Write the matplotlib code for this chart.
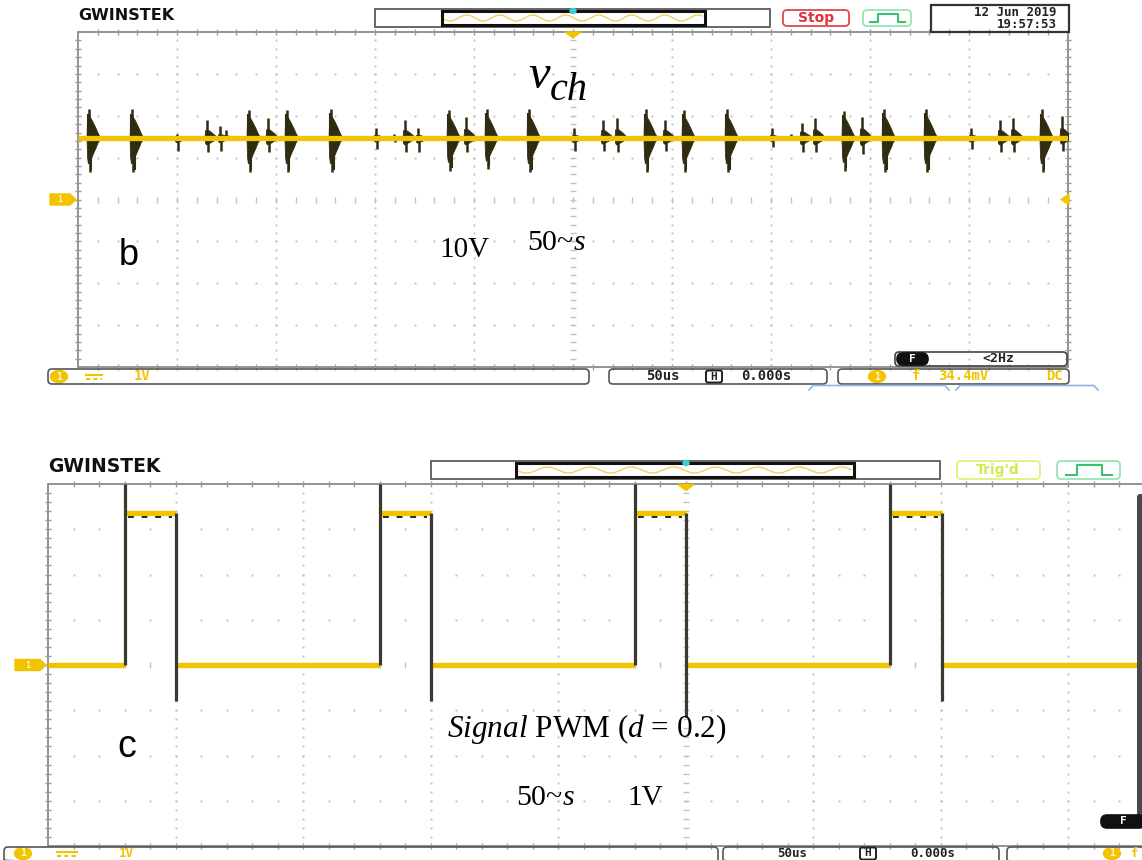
import numpy as np
import matplotlib
matplotlib.use("Agg")
import matplotlib.pyplot as plt
from matplotlib.patches import FancyBboxPatch, Rectangle, Polygon, Ellipse

W, H = 1142, 860

# ---------------- panel (b): channel voltage, screen divisions ----------------
VCH_LEVEL = 1.47          # trace level (div above channel marker)
BURST_T = [0.121, 0.556, 1.010, 1.313, 1.444, 1.505, 1.737, 1.929, 2.121, 2.566, 3.020, 3.202,
           3.313, 3.444, 3.758, 3.929, 4.141, 4.566, 5.020, 5.313, 5.455, 5.747, 5.939, 6.131,
           6.566, 7.020, 7.212, 7.323, 7.455, 7.747, 7.929, 8.152, 8.576, 9.030, 9.323, 9.455,
           9.747, 9.949]
BURST_UP = [0.68, 0.68, 0.10, 0.43, 0.28, 0.19, 0.66, 0.47, 0.66, 0.69, 0.23, 0.10,
            0.43, 0.23, 0.66, 0.49, 0.69, 0.69, 0.23, 0.43, 0.47, 0.68, 0.43, 0.66,
            0.68, 0.23, 0.10, 0.35, 0.47, 0.65, 0.51, 0.69, 0.69, 0.24, 0.43, 0.47,
            0.68, 0.52]
BURST_DN = [0.82, 0.82, 0.30, 0.34, 0.30, 0.05, 0.82, 0.34, 0.82, 0.82, 0.26, 0.10,
            0.34, 0.34, 0.78, 0.34, 0.74, 0.82, 0.30, 0.30, 0.34, 0.82, 0.30, 0.82,
            0.82, 0.22, 0.05, 0.34, 0.34, 0.78, 0.38, 0.82, 0.82, 0.26, 0.34, 0.34,
            0.82, 0.30]
# envelope of a single ringing burst (relative time in div, relative height)
SHAPE_X = [0.000, 0.006, 0.014, 0.024, 0.036, 0.052, 0.070, 0.090, 0.112, 0.140]
SHAPE_UP = [0.00, 0.80, 0.76, 0.88, 0.80, 0.70, 0.56, 0.40, 0.20, 0.00]
SHAPE_DN = [0.00, 0.62, 0.82, 0.78, 0.72, 0.60, 0.46, 0.32, 0.14, 0.00]

# ---------------- panel (c): PWM gate signal, screen divisions ----------------
PWM_RISE = [0.60, 2.60, 4.60, 6.60]
PWM_FALL = [1.00, 3.00, 5.00, 7.01]
PWM_HIGH = 3.36
PWM_LOW = 0.0
PWM_UNDERSHOOT = [-0.80, -0.80, -1.15, -0.80]

YELLOW = "#f2c400"
DARK = "#2f2c12"
GRID = "#c2c2c2"
MONO = "DejaVu Sans Mono"
SERIF = "Liberation Serif"

plt.rcParams["mathtext.fontset"] = "custom"
plt.rcParams["mathtext.rm"] = SERIF
plt.rcParams["mathtext.it"] = SERIF + ":italic"

fig = plt.figure(figsize=(W / 100, H / 100), dpi=100)
fig.patch.set_facecolor("white")


def screen_axes(x0, y0, x1, y1):
    ax = fig.add_axes([x0 / W, 1 - y1 / H, (x1 - x0) / W, (y1 - y0) / H])
    ax.set_xlim(0, 10)
    ax.set_ylim(-4, 4)
    ax.axis("off")
    return ax


def graticule(ax):
    mx = np.linspace(0.2, 9.8, 49)
    my = np.linspace(-3.8, 3.8, 39)
    for i in range(1, 10):
        if i != 5:
            ax.plot(np.full(my.size, i), my, ls="none", marker="s", ms=1.4, mew=0, color=GRID)
    for j in (-3, -2, -1, 1, 2, 3):
        ax.plot(mx, np.full(mx.size, j), ls="none", marker="s", ms=1.4, mew=0, color=GRID)
    ax.plot(np.full(my.size, 5), my, ls="none", marker="_", ms=5, mew=1, color=GRID)
    ax.plot(mx, np.zeros(mx.size), ls="none", marker="|", ms=5, mew=1, color=GRID)
    for yy in (-4, 4):
        ax.plot(mx, np.full(mx.size, yy), ls="none", marker="|", ms=5, mew=1,
                color="#9a9a9a", clip_on=False)
    for xx in (0, 10):
        ax.plot(np.full(my.size, xx), my, ls="none", marker="_", ms=5, mew=1,
                color="#9a9a9a", clip_on=False)
    ax.add_patch(Rectangle((0, -4), 10, 8, fill=False, ec="#8a8a8a", lw=1.3, clip_on=False))


# ---------------- panel (b) screen ----------------
axb = screen_axes(78, 32, 1068, 367)
graticule(axb)
sx = np.array(SHAPE_X)
for t, up, dn in zip(BURST_T, BURST_UP, BURST_DN):
    x0 = t - 0.035
    scale = 0.9 if up > 0.6 else (0.55 if up > 0.33 else 0.4)
    axb.fill_between(x0 + sx, VCH_LEVEL - dn * scale * np.array(SHAPE_DN),
                     VCH_LEVEL + up * scale * np.array(SHAPE_UP), color=DARK, lw=0.6,
                     ec=DARK, zorder=3)
    axb.vlines(x0 + 0.026, VCH_LEVEL, VCH_LEVEL + up, color=DARK, lw=1.8, zorder=3)
    axb.vlines(x0 + 0.034, VCH_LEVEL - dn, VCH_LEVEL, color=DARK, lw=1.8, zorder=3)
    if up > 0.6:
        axb.vlines(x0 + 0.012, VCH_LEVEL, VCH_LEVEL + 0.85 * up, color=DARK, lw=1.5, zorder=3)
        axb.vlines(x0 + 0.050, VCH_LEVEL - 0.92 * dn, VCH_LEVEL, color=DARK, lw=1.5, zorder=3)
axb.hlines(VCH_LEVEL, 0, 10, color=YELLOW, lw=3.8, zorder=4)

# ---------------- panel (c) screen ----------------
axc = screen_axes(48, 484, 1323, 846)
graticule(axc)
lows = [0] + PWM_FALL
lows_end = PWM_RISE + [10]
axc.hlines([PWM_LOW] * len(lows), lows, lows_end, color=YELLOW, lw=3.8, zorder=4)
axc.hlines([PWM_HIGH] * len(PWM_RISE), PWM_RISE, PWM_FALL, color=YELLOW, lw=3.8, zorder=4)
for r, f in zip(PWM_RISE, PWM_FALL):
    axc.plot([r + 0.03, f - 0.03], [PWM_HIGH - 0.09] * 2, color=DARK, lw=1.4,
             dashes=(3, 4), zorder=5)
axc.vlines(PWM_RISE, PWM_LOW, 4.0, color="#3a3a30", lw=2.3, zorder=5)
axc.vlines(PWM_FALL, PWM_UNDERSHOOT, PWM_HIGH, color="#3a3a30", lw=2.3, zorder=5)

# ---------------- instrument frame ----------------
ov = fig.add_axes([0, 0, 1, 1])
ov.set_xlim(0, W)
ov.set_ylim(H, 0)
ov.axis("off")
ov.patch.set_alpha(0)


def rbox(x0, y0, x1, y1, ec="#555555", fc="none", lw=1.2, r=4, z=2):
    ov.add_patch(FancyBboxPatch((x0, y0), x1 - x0, y1 - y0,
                                boxstyle=f"round,pad=0,rounding_size={r}",
                                ec=ec, fc=fc, lw=lw, zorder=z))


def mono(x, y, s, color="#222222", size=10, ha="left"):
    ov.text(x, y, s, color=color, fontsize=size, family=MONO, weight="bold",
            ha=ha, va="center")


def pulse_icon(x0, y0, x1, y1):
    rbox(x0, y0, x1, y1, ec="#8fe3b0", lw=1.2)
    w = x1 - x0
    ov.plot([x0 + 0.15 * w, x0 + 0.32 * w, x0 + 0.32 * w, x0 + 0.72 * w, x0 + 0.72 * w, x0 + 0.87 * w],
            [y1 - 4, y1 - 4, y0 + 4, y0 + 4, y1 - 4, y1 - 4], color="#3cc070", lw=1.5)


def memory_bar(x0, x1, ix0, ix1, y0, y1, period, cx):
    ov.add_patch(Rectangle((x0, y0), x1 - x0, y1 - y0, fill=False, ec="#666666", lw=1.4))
    ov.add_patch(Rectangle((ix0, y0 + 2), ix1 - ix0, y1 - y0 - 4, fill=False, ec="#111111", lw=2.2))
    xs = np.linspace(ix0 + 3, ix1 - 3, 400)
    ov.plot(xs, (y0 + y1) / 2 + 3 * np.sin(2 * np.pi * (xs - ix0) / period), color="#f0d060", lw=1)
    ov.add_patch(Ellipse((cx, y0 + 2), 6, 5, color="#3ad0d8", zorder=3))


def trig_arrow(x, y):
    ov.add_patch(Polygon([(x - 8, y), (x + 8, y), (x, y + 6)], closed=True, color=YELLOW))


def ch_marker(x0, x1, yc):
    ov.add_patch(Polygon([(x0, yc - 5.5), (x1 - 6, yc - 5.5), (x1, yc), (x1 - 6, yc + 5.5),
                          (x0, yc + 5.5)], closed=True, color=YELLOW))
    ov.text((x0 + x1) / 2 - 3, yc, "1", fontsize=6, color="#fff4c0", ha="center", va="center",
            family=MONO, weight="bold")


def ch_badge(x, y):
    ov.add_patch(Ellipse((x, y), 17, 12, color=YELLOW))
    ov.text(x, y, "1", fontsize=7, color="#fff6c8", ha="center", va="center", family=MONO,
            weight="bold")


def dc_symbol(x0, x1, y):
    ov.plot([x0, x1], [y - 2, y - 2], color=YELLOW, lw=1.5)
    ov.plot([x0, x1], [y + 2, y + 2], color=YELLOW, lw=1.5, dashes=(2, 1.5))


def f_pill(x0, x1, y0, y1):
    rbox(x0, y0, x1, y1, ec="#111111", fc="#111111", r=6, z=3)
    ov.text((x0 + x1) / 2, (y0 + y1) / 2, "F", color="white", fontsize=8, ha="center",
            va="center", family=MONO, weight="bold", zorder=4)


def h_box(x, y):
    rbox(x - 8, y - 6, x + 8, y + 6, ec="#222222", lw=1.4, r=2)
    ov.text(x, y, "H", color="#222222", fontsize=8, ha="center", va="center", family=MONO,
            weight="bold")


# --- header and status bar of panel (b)
ov.text(78, 16, "GWINSTEK", fontsize=11.5, weight="heavy", family="DejaVu Sans",
        color="#111111", va="center", ha="left")
memory_bar(375, 770, 442, 705, 9, 27, 33, 573)
trig_arrow(573, 32)
rbox(783, 10, 849, 26, ec="#e04848", lw=1.3)
ov.text(816, 18, "Stop", color="#e03040", fontsize=10, family="DejaVu Sans", weight="bold",
        ha="center", va="center")
pulse_icon(863, 10, 911, 26)
ov.add_patch(Rectangle((931, 5), 138, 27, fill=False, ec="#333333", lw=1.6))
mono(1057, 12, "12 Jun 2019", ha="right", size=9)
mono(1057, 24.5, "19:57:53", ha="right", size=9)
ch_marker(50, 76, 199.5)
ov.add_patch(Polygon([(1061, 199.5), (1069, 194), (1069, 205)], closed=True, color=YELLOW))

rbox(895, 352, 1067, 366, ec="#444444")
f_pill(897, 928, 353, 365)
mono(998, 359, "<2Hz", size=9.5, ha="center")

rbox(48, 369, 589, 384)
ch_badge(59, 376.5)
dc_symbol(86, 102, 376.5)
mono(134, 376.5, "1V", color=YELLOW)
rbox(609, 369, 827, 384)
mono(646, 376.5, "50us")
h_box(714, 376.5)
mono(741, 376.5, "0.000s")
rbox(838, 369, 1069, 384)
ch_badge(877, 376.5)
mono(912, 376.5, "f", color=YELLOW)
mono(938, 376.5, "34.4mV", color=YELLOW)
mono(1046, 376.5, "DC", color=YELLOW)
for a, b in ((809, 949), (956, 1098)):
    ov.plot([a, a + 4, b - 4, b], [390, 385.5, 385.5, 390], color="#8fb4e6", lw=1.2)

# --- header and status bar of panel (c)
ov.text(48, 467, "GWINSTEK", fontsize=13.5, weight="heavy", family="DejaVu Sans",
        color="#111111", va="center", ha="left")
memory_bar(431, 940, 516, 854, 461, 479, 42, 686)
trig_arrow(686, 484.5)
rbox(957, 461, 1040, 479, ec="#e2f07a", lw=1.3)
ov.text(998, 470, "Trig'd", color="#d4e850", fontsize=10, family="DejaVu Sans",
        weight="bold", ha="center", va="center")
pulse_icon(1057, 461, 1120, 479)
ch_marker(15, 46, 665)
ov.add_patch(FancyBboxPatch((1137, 494), 8, 326, boxstyle="round,pad=0,rounding_size=3",
                            ec="none", fc="#4a4a4a"))
f_pill(1101, 1145, 815, 828)

rbox(4, 847, 718, 864)
ch_badge(23, 853.5)
dc_symbol(57, 77, 853.5)
mono(119, 853.5, "1V", color=YELLOW, size=9)
rbox(723, 847, 999, 864)
mono(777, 853.5, "50us", size=9)
h_box(868, 853.5)
mono(910, 853.5, "0.000s", size=9)
rbox(1007, 847, 1160, 864)
ch_badge(1112, 853.5)
mono(1131, 853.5, "f", color=YELLOW, size=9)

# --- annotations
ov.text(528, 88, "v", fontsize=35, style="italic", family=SERIF, va="baseline")
ov.text(550, 100, "ch", fontsize=29, style="italic", family=SERIF, va="baseline")
ov.text(119, 265, "b", fontsize=26, family="Liberation Sans", va="baseline")
ov.text(439, 257, "10V", fontsize=21, family=SERIF, va="baseline")
ov.text(527, 250, "50~$s$", fontsize=21.5, family=SERIF, va="baseline")

ov.text(117, 757, "c", fontsize=27, family="Liberation Sans", va="baseline")
ov.text(447, 737, r"$\mathit{Signal}$ PWM ($d$ = 0.2)", fontsize=22.5, family=SERIF,
        va="baseline")
ov.text(516, 805, "50~$s$", fontsize=21.5, family=SERIF, va="baseline")
ov.text(627, 805, "1V", fontsize=21, family=SERIF, va="baseline")

fig.savefig("out.png", dpi=100, facecolor="white")
